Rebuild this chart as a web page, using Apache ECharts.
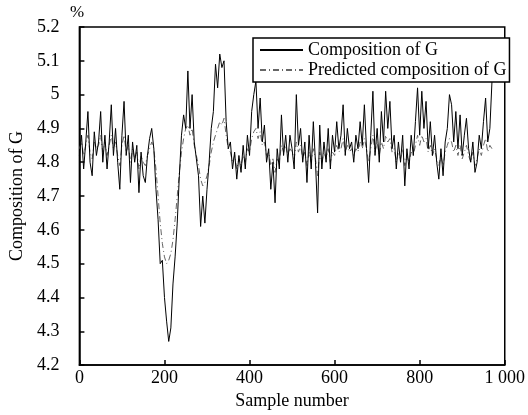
<!DOCTYPE html>
<html>
<head>
<meta charset="utf-8">
<script src="https://cdn.jsdelivr.net/npm/echarts@6/dist/echarts.min.js"></script>
<style>html,body{margin:0;padding:0;background:#fff}#c{width:528px;height:415px}</style>
</head>
<body>
<div id="c"></div>
<script>
// sample step between listed values
const STEP = 5;
const xTicks = [0, 200, 400, 600, 800, 1000];
const yTicks = [4.2, 4.3, 4.4, 4.5, 4.6, 4.7, 4.8, 4.9, 5.0, 5.1, 5.2];
const seriesNames = ['Composition of G', 'Predicted composition of G'];

const actual = [
4.82,4.88,4.78,4.86,4.95,4.80,4.76,4.89,4.82,4.86,
4.95,4.80,4.88,4.78,4.86,4.97,4.82,4.90,4.80,4.72,
4.88,4.98,4.82,4.88,4.74,4.86,4.80,4.85,4.71,4.83,
4.76,4.74,4.82,4.87,4.90,4.84,4.72,4.63,4.50,4.51,
4.40,4.33,4.27,4.31,4.44,4.52,4.62,4.76,4.88,4.94,
4.90,5.07,4.90,5.00,4.86,4.81,4.76,4.61,4.70,4.62,
4.72,4.80,4.90,4.95,5.09,5.02,5.12,5.08,5.10,4.92,
4.84,4.86,4.78,4.83,4.75,4.82,4.77,4.85,4.78,4.88,
4.82,4.95,5.00,5.04,4.90,4.99,4.86,4.91,4.80,4.84,
4.72,4.80,4.68,4.84,4.78,4.94,4.82,4.88,4.80,4.88,
4.84,4.78,5.00,4.85,4.90,4.80,4.86,4.74,4.88,4.78,
4.92,4.80,4.65,4.91,4.78,4.86,4.80,4.90,4.78,4.88,
4.83,4.92,4.84,4.88,4.97,4.82,4.90,4.84,4.86,4.80,
4.88,4.84,4.92,4.85,4.97,4.84,4.74,4.88,5.01,4.82,
4.90,4.80,4.95,4.86,5.01,4.90,4.98,4.84,4.88,4.78,
4.86,4.80,4.88,4.73,4.84,4.78,4.88,4.82,4.92,5.02,
4.88,5.01,4.90,4.98,4.84,4.92,4.82,4.88,4.80,4.75,
4.84,4.76,4.86,4.90,5.00,4.97,4.86,4.95,4.84,4.94,
4.82,4.88,4.93,4.84,4.80,4.86,4.77,4.80,4.88,4.84,
4.92,4.99,4.86,4.90,5.04
];

const predicted = [
4.84,4.86,4.82,4.85,4.88,4.83,4.81,4.86,4.84,4.85,
4.88,4.83,4.86,4.82,4.85,4.88,4.84,4.86,4.82,4.79,
4.85,4.88,4.83,4.85,4.80,4.84,4.81,4.83,4.78,4.82,
4.80,4.79,4.82,4.84,4.86,4.84,4.78,4.70,4.62,4.56,
4.52,4.50,4.51,4.53,4.57,4.63,4.70,4.77,4.83,4.87,
4.90,4.91,4.88,4.90,4.85,4.82,4.79,4.75,4.73,4.74,
4.76,4.79,4.83,4.86,4.88,4.90,4.92,4.91,4.93,4.88,
4.84,4.83,4.80,4.82,4.78,4.81,4.79,4.82,4.80,4.84,
4.83,4.87,4.89,4.90,4.87,4.89,4.85,4.86,4.82,4.83,
4.79,4.81,4.77,4.81,4.80,4.85,4.83,4.85,4.82,4.84,
4.83,4.81,4.86,4.83,4.85,4.81,4.83,4.79,4.83,4.80,
4.84,4.81,4.76,4.83,4.80,4.83,4.81,4.84,4.80,4.83,
4.82,4.85,4.83,4.84,4.87,4.83,4.85,4.83,4.84,4.82,
4.84,4.83,4.86,4.84,4.87,4.84,4.80,4.84,4.88,4.83,
4.86,4.82,4.86,4.84,4.88,4.86,4.87,4.83,4.84,4.80,
4.83,4.81,4.84,4.79,4.82,4.80,4.83,4.82,4.85,4.88,
4.85,4.88,4.86,4.87,4.83,4.85,4.82,4.84,4.81,4.79,
4.82,4.79,4.83,4.85,4.87,4.86,4.83,4.85,4.82,4.85,
4.81,4.83,4.85,4.82,4.80,4.83,4.79,4.81,4.84,4.82,
4.85,4.87,4.83,4.85,4.84
];

const FONT = '"Liberation Serif", "Times New Roman", serif';
const toPairs = arr => arr.map((v, i) => [i * STEP, v]);

const chart = echarts.init(document.getElementById('c'), null, {renderer: 'canvas'});
chart.setOption({
  animation: false,
  backgroundColor: '#fff',
  grid: {left: 73, right: 14, top: 27, bottom: 39, show: true, borderColor: '#000', borderWidth: 1.5, backgroundColor: 'transparent'},
  legend: {
    orient: 'vertical', left: 253, top: 38,
    padding: [3, 3, 3, 6], itemGap: 2, itemWidth: 43, itemHeight: 14,
    borderColor: '#000', borderWidth: 1.5, backgroundColor: '#fff',
    itemStyle: {opacity: 0},
    textStyle: {fontFamily: FONT, fontSize: 18, color: '#000'},
    data: seriesNames
  },
  graphic: [{type: 'text', left: 70, top: 4, style: {text: '%', fontFamily: FONT, fontSize: 17, fill: '#000'}}],
  xAxis: {
    type: 'value', min: xTicks[0], max: xTicks[xTicks.length - 1], interval: 200,
    name: 'Sample number', nameLocation: 'middle', nameGap: 22,
    nameTextStyle: {fontFamily: FONT, fontSize: 18, color: '#000'},
    axisLine: {show: true, lineStyle: {color: '#000', width: 1.5}},
    axisTick: {show: true, inside: true, length: 5, lineStyle: {color: '#000', width: 1.5}},
    axisLabel: {fontFamily: FONT, fontSize: 18, color: '#000', margin: 4,
      formatter: v => v === 1000 ? '1 000' : String(v)},
    splitLine: {show: false}
  },
  yAxis: {
    type: 'value', min: yTicks[0], max: yTicks[yTicks.length - 1], interval: 0.1,
    name: 'Composition of G', nameLocation: 'middle', nameGap: 46,
    nameTextStyle: {fontFamily: FONT, fontSize: 18, color: '#000'},
    axisLine: {show: true, lineStyle: {color: '#000', width: 1.5}},
    axisTick: {show: true, inside: true, length: 5, lineStyle: {color: '#000', width: 1.5}},
    axisLabel: {fontFamily: FONT, fontSize: 18, color: '#000', margin: 20,
      formatter: v => String(Math.round(v * 10) / 10)},
    splitLine: {show: false}
  },
  series: [
    {name: seriesNames[0], type: 'line', data: toPairs(actual), symbol: 'none',
     lineStyle: {color: '#000', width: 1}, itemStyle: {color: '#000'}, z: 3},
    {name: seriesNames[1], type: 'line', data: toPairs(predicted), symbol: 'none',
     lineStyle: {color: '#666', width: 1, type: [6, 3, 1, 3]}, itemStyle: {color: '#666'}, z: 2}
  ]
});
</script>
</body>
</html>
